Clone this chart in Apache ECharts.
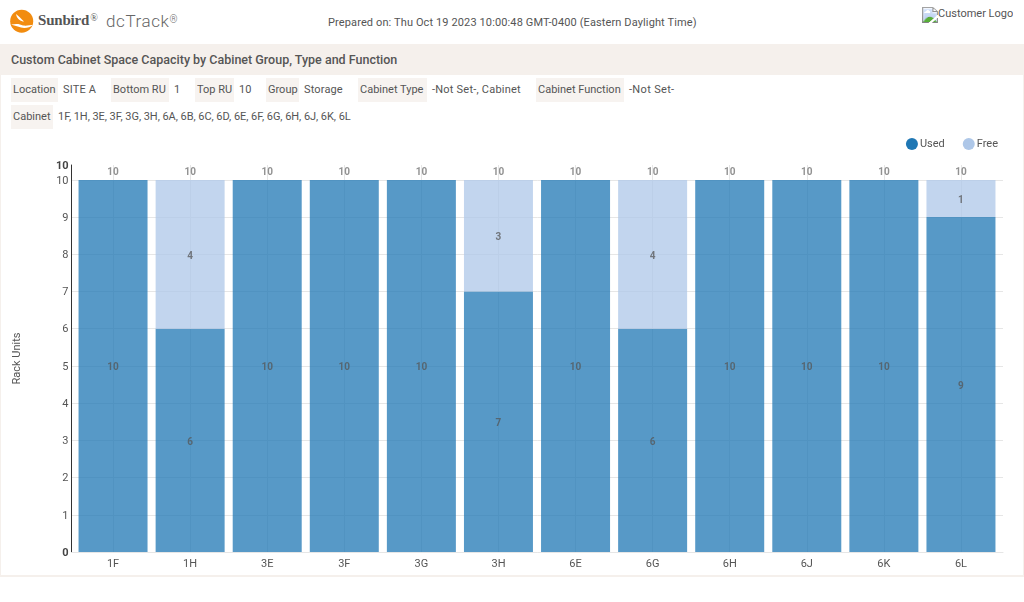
<!DOCTYPE html>
<html>
<head>
<meta charset="utf-8">
<script src="https://cdn.jsdelivr.net/npm/echarts@6/dist/echarts.min.js"></script>
<style>
html,body{margin:0;padding:0;background:#fff;width:1024px;height:602px;overflow:hidden;font-family:Roboto,sans-serif;color:#555}
.abs{position:absolute;white-space:nowrap}
#card{position:absolute;left:0;top:44px;width:1022px;height:531px;border:1px solid #f5f0ec;border-width:0 1px 2px 1px}
#band{position:absolute;left:0;top:44px;width:1024px;height:31px;background:#f5f0ec;font-size:12.5px;font-weight:500;line-height:31px;text-indent:11px;color:#555}
.chip{position:absolute;background:#f7f3f0;font-size:11px;line-height:24px;height:24px;padding-left:2px;box-sizing:border-box;white-space:nowrap;color:#555}
.val{position:absolute;font-size:11px;line-height:24px;white-space:nowrap;color:#555}
#chart{position:absolute;left:0;top:0;width:1024px;height:602px}
</style>
</head>
<body>
<div id="card"></div>
<div id="band">Custom Cabinet Space Capacity by Cabinet Group, Type and Function</div>
<svg class="abs" style="left:10px;top:9px" width="26" height="26" viewBox="0 0 26 26">
  <circle cx="11.7" cy="12.2" r="11.5" fill="#f28c0f"/>
  <path d="M1 15.5 C7 14.5 10 15 13 16.5 C17 17 20 16 23 16 C20 18.5 15 19.5 11 18.5 C8 17.5 4 16.5 1 15.5Z M6 5 C9 7 11 10 14 12.5 C11 12.5 7 10.5 6 5Z" fill="#fff"/>
</svg>
<div class="abs" style="left:38px;top:12px;font:bold 15px 'Liberation Serif',serif;color:#555;letter-spacing:-.2px">Sunbird<span style="font-size:10px;vertical-align:4px;font-weight:normal;margin-left:1px">®</span></div>
<div class="abs" style="left:106px;top:11px;font:300 17px Roboto,sans-serif;color:#666;letter-spacing:.6px">dcTrack<span style="font-size:10px;vertical-align:4px">®</span></div>
<div class="abs" style="left:328px;top:16px;font-size:11px;color:#555;letter-spacing:.12px">Prepared on: Thu Oct 19 2023 10:00:48 GMT-0400 (Eastern Daylight Time)</div>
<img class="abs" style="left:922px;top:7px;font-size:11px;color:#555" src="customer-logo.png" alt="Customer Logo">

<div class="chip" style="left:11px;top:78px;width:47px">Location</div><div class="val" style="left:63px;top:78px;letter-spacing:.15px">SITE A</div>
<div class="chip" style="left:111px;top:78px;width:58px">Bottom RU</div><div class="val" style="left:174px;top:78px">1</div>
<div class="chip" style="left:195px;top:78px;width:39px">Top RU</div><div class="val" style="left:239px;top:78px">10</div>
<div class="chip" style="left:266px;top:78px;width:33px">Group</div><div class="val" style="left:304px;top:78px;letter-spacing:.15px">Storage</div>
<div class="chip" style="left:358px;top:78px;width:69px">Cabinet Type</div><div class="val" style="left:432px;top:78px;letter-spacing:.22px">-Not Set-, Cabinet</div>
<div class="chip" style="left:536px;top:78px;width:88px">Cabinet Function</div><div class="val" style="left:629px;top:78px;letter-spacing:.33px">-Not Set-</div>
<div class="chip" style="left:11px;top:105px;width:42px">Cabinet</div><div class="val" style="left:58px;top:105px;letter-spacing:-.045px">1F, 1H, 3E, 3F, 3G, 3H, 6A, 6B, 6C, 6D, 6E, 6F, 6G, 6H, 6J, 6K, 6L</div>
<div id="chart"></div>
<script>
const categories = ["1F","1H","3E","3F","3G","3H","6E","6G","6H","6J","6K","6L"];
const usedValues = [10,6,10,10,10,7,10,6,10,10,10,9];
const freeValues = [null,4,null,null,null,3,null,4,null,null,null,1];
const totalValues = [10,10,10,10,10,10,10,10,10,10,10,10];

const chart = echarts.init(document.getElementById('chart'), null, {renderer:'canvas'});
const font = 'Roboto, sans-serif';
const gridLine = {color:'#e6e6e6', width:1};
const barLabel = {show:true, position:'inside', offset:[0,2], fontFamily:font, fontSize:10, fontWeight:'bold', color:'#555'};
chart.setOption({
  animation:false,
  backgroundColor:'transparent',
  textStyle:{fontFamily:font},
  legend:{
    data:['Used','Free'], top:133, right:21, icon:'circle', itemWidth:12, itemHeight:12, itemGap:18,
    selectedMode:false, itemStyle:{opacity:1},
    textStyle:{fontFamily:font, fontSize:11, color:'#555', padding:[0,0,0,-3]}
  },
  grid:[
    {left:71.5, width:931.5, top:165, height:387},
    {left:74.5, width:925, top:165, height:387}
  ],
  xAxis:[
    {gridIndex:0, type:'value', min:0, max:1, axisLabel:{show:false}, axisTick:{show:false}, splitLine:{show:false},
     axisLine:{show:true, lineStyle:{color:'#e6e6e6', width:1}}},
    {gridIndex:1, type:'category', data:categories, position:'bottom',
     axisLine:{show:false}, axisTick:{show:false},
     splitLine:{show:true, alignWithLabel:true, lineStyle:gridLine},
     axisLabel:{fontFamily:font, fontSize:11, color:'#555', margin:7}}
  ],
  yAxis:[
    {gridIndex:0, type:'value', min:0, max:10.4, interval:1,
     name:'Rack Units', nameLocation:'middle', nameGap:49, nameRotate:90,
     nameTextStyle:{fontFamily:font, fontSize:11, color:'#555'},
     axisLine:{show:true, lineStyle:{color:'#333', width:1}},
     axisTick:{show:false},
     splitLine:{show:true, showMinLine:false, showMaxLine:false, lineStyle:gridLine},
     axisLabel:{fontFamily:font, fontSize:11, color:'#555', margin:3, padding:[2,0,0,0], showMinLabel:true, showMaxLabel:true,
       formatter:function(v){
         const r=Math.round(v);
         return (v===0||v>10) ? '{b|'+r+'}' : String(r);
       },
       rich:{b:{fontFamily:font, fontSize:11, fontWeight:'bold', color:'#444'}}
     }},
    {gridIndex:1, type:'value', min:0, max:10.4, interval:1, show:false, splitLine:{show:false}}
  ],
  series:[
    {name:'Used', type:'bar', stack:'rack', xAxisIndex:1, yAxisIndex:1, data:usedValues, barWidth:69,
     itemStyle:{color:'#1f77b4', opacity:0.75}, label:barLabel},
    {name:'Free', type:'bar', stack:'rack', xAxisIndex:1, yAxisIndex:1, data:freeValues, barWidth:69,
     itemStyle:{color:'#aec7e8', opacity:0.75}, label:barLabel},
    {name:'Total', type:'scatter', xAxisIndex:1, yAxisIndex:1, data:totalValues, symbolSize:0, silent:true,
     label:{show:true, position:'top', distance:2, fontFamily:font, fontSize:10, fontWeight:'bold', color:'#777'}}
  ]
});
</script>
</body>
</html>
